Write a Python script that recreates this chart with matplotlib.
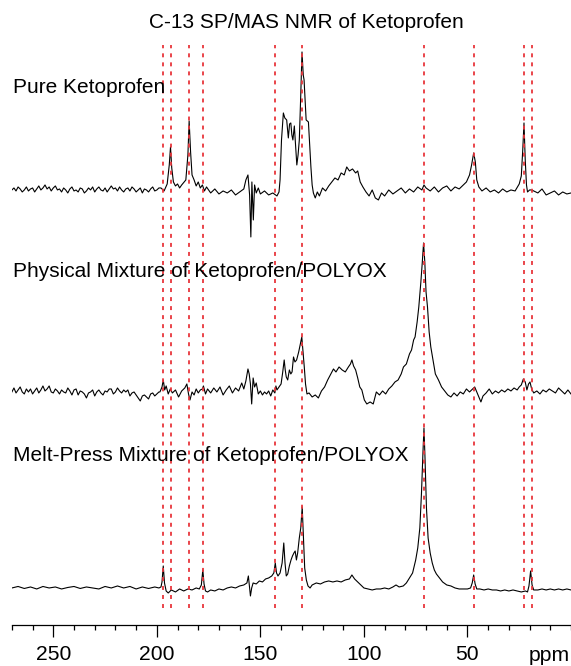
import numpy as np
import matplotlib.pyplot as plt

plt.rcParams['font.family'] = ['Liberation Sans', 'DejaVu Sans']

# Chemical shift positions of the reference (dashed) lines, ppm
ref_lines = [197.0, 193.1, 184.4, 177.8, 143.0, 129.9, 70.9, 46.9, 22.6, 18.9]

# Baseline noise, 270 -> 199 ppm in 1 ppm steps
noise_ppm = list(range(270, 198, -1))
pure_noise = [0, 2, -1, 3, 1, -2, 0, 3,
              -1, 1, 2, -2, 1, 4, 0, 2,
              5, 1, 3, -1, 2, 4, 0, 1,
              -2, 2, 0, -3, 1, 3, -1, 0,
              -2, 2, 1, -3, -1, 2, 0, 3,
              -2, 1, 3, 0, -1, 2, -2, 1,
              4, 1, 2, -1, 3, 0, -2, 1,
              2, -1, 3, 1, -2, 0, 2, -3,
              1, 0, -2, 1, 3, -1, 0, 2]
phys_noise = [0, 4, -1, 2, 5, 0, -2, 3,
              0, 3, -2, 1, 4, -1, 2, 6,
              1, 3, 6, 0, -1, 3, 1, -2,
              2, 0, -1, 4, 1, -3, 2, 3,
              -3, 1, 0, -2, -6, -1, 0, 2,
              -4, 0, 2, -1, -3, 1, 0, 3,
              3, -2, 0, 4, 1, -1, 2, 0,
              2, -4, -1, 0, -3, -6, -9, -4,
              -3, -5, -7, -2, -1, -4, -2, 0]

# Pure Ketoprofen trace below 199 ppm: (ppm, intensity above baseline)
pure_ppm = [198, 196.5, 195, 194, 193.4, 192.8, 192, 191, 190, 189, 188,
            186, 185, 184.4, 183.7, 183, 182, 181, 180, 179, 178, 177, 176, 174, 172, 170,
            168, 166, 164, 162, 160, 158, 157, 156, 155.2, 154.6, 154.1, 153.4, 152.8, 152,
            151, 150, 148, 146, 144, 142, 141, 140.5, 139.8, 138.9, 138.2, 137.3, 136.5,
            135.9, 135.3, 134.8, 134.3, 133.6, 133, 132.4, 131.8, 131.2, 130.5, 129.9, 129.3,
            128.9, 127.9, 126.8, 126.2, 125.6, 125, 124.4, 123.5, 122.5, 121.5, 120, 118.5,
            117, 115.5, 114, 112.5, 111, 109.5, 108.3, 107, 105.5, 104, 103, 101.8, 100.5,
            99, 97.5, 96, 94.5, 93, 91.5, 90, 88, 86, 84, 82, 80, 78, 76, 74, 72, 71, 70, 68,
            66, 64, 62, 60, 58, 56, 54, 52, 50.5, 49, 48, 47, 46.2, 45.5, 44.5, 43, 41, 39,
            37, 35, 33, 31, 29, 27, 25, 24, 23.3, 22.7, 22.1, 21.5, 21, 20, 19, 18, 16, 14,
            12, 10, 8, 6, 4, 2, 0]
pure_int = [2, -1, 6, 25, 43, 22, 8, 4, 6, 2, 5,
            10, 35, 69, 38, 15, 10, 4, 8, 2, 5, -1, 3, -3, 1, -4,
            -1, -3, 0, -5, -2, 1, 10, 15, -5, -47, 8, -30, 5, -3,
            2, -4, -1, -5, -3, -6, -2, 10, 50, 77, 72, 70, 52,
            66, 67, 55, 50, 64, 45, 25, 35, 50, 95, 138, 115,
            110, 70, 68, 45, 23, 5, -3, -8, -2, -6, 2, -1,
            4, 8, 12, 10, 17, 15, 23, 19, 21, 17, 19, 8, 3,
            -2, -6, 0, -8, -10, -3, -6, 0, -4, -1, 2, -3, 1, -2, 3, 0, 5, 2, -1,
            3, -2, 2, 4, -1, 3, 1, 5, 8, 15, 25, 37, 28, 10, 3, -1, 2, -2,
            0, -3, 1, -2, 0, -1, 6, 14, 40, 67, 30, 5, -2, 0, 0, -1, -3, 1,
            -5, -3, -1, -5, -2, -4, -3]

# Physical mixture trace below 199 ppm
phys_ppm = [198.5, 197.5, 196.9, 196.2, 195.5, 194.5, 193.5, 192.5, 191,
            189.5, 188, 186.5, 185.5, 184.7, 184, 183, 182, 181, 180, 179, 178, 177.5, 176.5,
            175.5, 174, 172.5, 171, 169.5, 168, 166.5, 165, 163.5, 162, 160.5, 159, 158, 157,
            156, 155.4, 154.8, 154.2, 153.5, 152.8, 152, 151, 150, 149, 148, 147, 146, 145,
            144, 143, 142.5, 142, 141, 140, 139.2, 138.5, 138, 137.5, 136.8, 136, 135.3, 134.7,
            134, 133.3, 132.5, 131.5, 130.5, 130, 129.4, 128.8, 128.2, 127.5, 126.5, 125, 123.5,
            122, 120.5, 119, 117.5, 116, 114.7, 113.5, 112, 110.5, 109, 107.5, 106.5, 105.8,
            105, 104, 103, 102, 101, 99.8, 98.6, 97, 95.5, 94, 92.5, 91, 89.5, 88, 86.5, 85,
            83.5, 82, 80.9, 79.5, 78, 77, 76, 75.3, 74.3, 73.5, 72.5, 71.8, 71.2, 70.6, 70,
            69.3, 68.5, 67.7, 66.5, 65.5, 64, 62.5, 61, 59.5, 58, 56.5, 55, 53.5, 52, 50.5,
            49, 47.5, 46.5, 45.5, 44.5, 43.5, 42.5, 41, 39.5, 38, 36.5, 35, 33.5, 32, 30.5,
            29, 27.5, 26, 25, 24, 23, 22.1, 21.3, 20.5, 19.8, 19, 18, 16.5, 15, 13.5, 12,
            10.5, 9, 7.5, 6, 4.5, 3, 1.5, 0]
phys_int = [0, 5, 12, 2, 6, -2, 3, -1, 2,
            -5, 1, 4, 8, -2, -8, 0, -3, 3, -1, 2, 3, 6, -2,
            3, -1, 4, 0, 5, -3, 2, 6, -1, 4, 1, 9, 3, 11,
            23, 18, 8, -12, 14, 5, 9, -2, 1, -3, 0, -2, 1, -4,
            2, -1, 6, 2, 5, 8, 20, 32, 22, 15, 12, 22, 18, 20,
            35, 30, 32, 40, 50, 55, 40, 25, 8, -2, -1, -5, -3,
            -6, 1, 5, 12, 18, 23, 20, 25, 22, 20, 25, 28, 32,
            26, 22, 14, 5, 2, -8, -12, -10, -12, 0, -3, 1, -2, 3, 6, 10,
            12, 18, 25, 28, 38, 42, 52, 55, 70, 85, 110, 130, 149, 130, 100,
            85, 60, 45, 30, 18, 12, 5, 1, -3, -5, -1, -4, 0, -2, 3,
            0, 3, 5, 0, -5, -10, -4, -1, 3, -2, 1, -1, 2, 0, 3,
            1, 4, 2, 5, 7, 13, 10, 2, 8, 10, 3, -1, 1, -2, 2, 0,
            3, 1, -1, 4, 1, -2, 2, -2]

# Melt-press mixture trace
melt_ppm = [270, 267, 264, 261, 258, 255, 252, 249, 246, 243, 240, 237, 234, 231, 228, 225,
            222, 219, 216, 213, 210, 207, 204, 201, 199, 198, 197.5, 196.9, 196.3, 195.5,
            194.5, 193, 191, 189, 187, 185, 183, 181, 179.5, 178.5, 177.8, 177.2, 176.5,
            175.5, 174, 172, 170, 168, 166, 164, 162, 160, 158, 156.5, 155.8, 155.3, 154.8,
            154.2, 153.5, 152, 150.5, 149, 147.5, 146, 144.5, 143.5, 142.8, 142.2, 141.5,
            140.5, 139.5, 138.7, 138.1, 137.5, 136.8, 136, 135.2, 134.5, 133.8, 133.2, 132.6,
            132, 131.2, 130.5, 129.8, 129.2, 128.6, 127.8, 127, 126, 125, 123, 121, 119, 117,
            115, 113, 111, 109, 107, 105.8, 104.5, 103, 101.5, 100, 98, 96, 94, 92, 90, 88,
            86, 84.5, 83, 81, 79.5, 78, 76.5, 75, 74, 73, 72.2, 71.5, 71, 70.5, 69.8, 69, 68,
            67, 66, 65, 63.5, 62, 60, 58, 56, 54, 52, 50, 48.5, 47.7, 47, 46.3, 45.5, 44, 42,
            40, 38, 36, 34, 32, 30, 28, 26, 24, 22, 21, 20.3, 19.5, 18.8, 18, 16, 14, 12, 10,
            8, 6, 4, 2, 0]
melt_int = [0, 1.5, -0.5, 1, -1, 1.5, 0, 1, -1, 0.5, 1.5, -0.5, 1, 0, -1, 1.5,
            0, 2, 0, 1.5, -1, 1, -0.5, 1, 0, 1, 6, 22, 5, -3,
            -5, -2, -4, -1, -3, -1, -2, 0, -1, 3, 18, 4, -3,
            -4, -2, -3, -1, -2, 0, 1, 0, 2, 3, 5, 12, 2, -8,
            0, 5, 4, 7, 6, 9, 10, 12, 15, 25, 15, 12,
            15, 25, 45, 25, 12, 14, 22, 28, 32, 35, 37, 28,
            35, 50, 60, 81, 50, 20, 8, 2, 0, 3, 5, 4, 6, 7,
            6, 7, 6, 8, 9, 13, 9, 6, 3, 0, -1, -2, -1, -1, 0, -1,
            1, 3, 1, 2, 5, 10, 15, 28, 40, 60, 95, 135, 160, 130, 80, 50, 35,
            25, 18, 14, 10, 6, 3, 2, 0, -1, -1, -1, 0, 5, 13, 4, -1, -1, -2,
            -1, -2, -2, -3, -2, -3, -2, -3, -4, -3, -4, 2, 17, 3, -2, -2, -1, -2, -1,
            -2, -1, -2, -1, -2]

labels = ['Pure Ketoprofen',
          'Physical Mixture of Ketoprofen/POLYOX',
          'Melt-Press Mixture of Ketoprofen/POLYOX']
baselines = [435, 233, 37]
label_y = [537, 353, 169]

tick_major = [250, 200, 150, 100, 50]
tick_minor = list(range(0, 271, 10))

fig = plt.figure(figsize=(5.71, 6.66), dpi=100)
ax = fig.add_axes([0.0208, 0.0616, 0.9792, 0.8784])

traces = [(noise_ppm + pure_ppm, pure_noise + pure_int),
          (noise_ppm + phys_ppm, phys_noise + phys_int),
          (melt_ppm, melt_int)]
for (ppm, inten), base in zip(traces, baselines):
    ax.plot(ppm, np.array(inten) + base, color='black', lw=0.8, zorder=2)

ax.vlines(ref_lines, 17, 580, colors='#e8363c', linestyles=(0, (2.2, 2.8)),
          lw=1.3, zorder=3)

for text, y in zip(labels, label_y):
    ax.text(269.4, y, text, fontsize=15, va='center', ha='left', zorder=4)

ax.set_xlim(270, 0)
ax.set_ylim(0, 585)
ax.set_xticks(tick_major)
ax.set_xticks(tick_minor, minor=True)
ax.set_xticklabels([str(t) for t in tick_major], fontsize=15.2)
ax.tick_params(axis='x', which='major', length=8.6, width=0.9, direction='out', pad=6)
ax.tick_params(axis='x', which='minor', length=3.6, width=0.9, direction='out')
ax.set_yticks([])
for s in ['left', 'right', 'top']:
    ax.spines[s].set_visible(False)
ax.spines['bottom'].set_linewidth(0.9)
ax.patch.set_alpha(0)

ax.text(10.5, -0.0615, 'ppm', transform=ax.get_xaxis_transform(), fontsize=15.2,
        ha='center', va='baseline')

fig.text(306.5 / 571, 1 - 22 / 666, 'C-13 SP/MAS NMR of Ketoprofen', fontsize=15,
         ha='center', va='center')

fig.savefig('out.png', dpi=100)
